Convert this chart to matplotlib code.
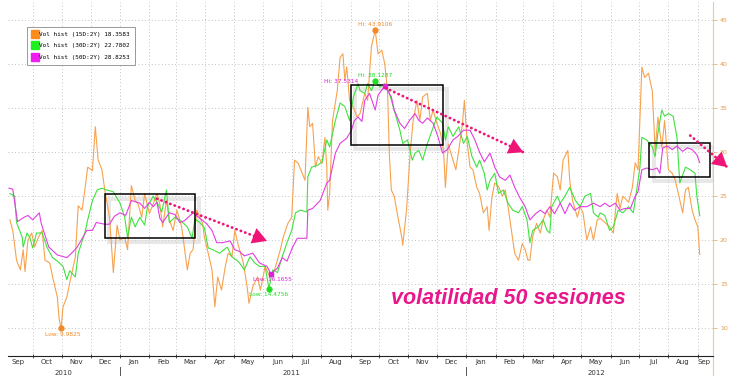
import pandas as pd
import matplotlib
matplotlib.use('Agg')
import matplotlib.pyplot as plt
import matplotlib.dates as mdates
import matplotlib.transforms as mtransforms
from matplotlib.patches import Rectangle
from matplotlib.lines import Line2D

# volatilidad historica, (fecha, valor)
vol15 = [
    ('2010-09-07', 22.3), ('2010-09-10', 21.1), ('2010-09-14', 17.7), ('2010-09-18', 16.6),
    ('2010-09-21', 18.9), ('2010-09-23', 16.4), ('2010-09-26', 20.0), ('2010-09-30', 20.8),
    ('2010-10-03', 19.2), ('2010-10-07', 20.3), ('2010-10-11', 21.1), ('2010-10-14', 17.7),
    ('2010-10-19', 17.4), ('2010-10-22', 15.8), ('2010-10-27', 13.5), ('2010-10-29', 10.9),
    ('2010-10-31', 9.9825), ('2010-11-02', 12.4), ('2010-11-06', 13.5), ('2010-11-09', 15.1),
    ('2010-11-15', 18.1), ('2010-11-18', 23.9), ('2010-11-22', 23.4), ('2010-11-25', 25.7),
    ('2010-11-28', 28.3), ('2010-12-03', 27.9), ('2010-12-06', 32.9), ('2010-12-09', 29.1),
    ('2010-12-13', 28.0), ('2010-12-16', 25.7), ('2010-12-21', 22.6), ('2010-12-25', 16.3),
    ('2010-12-29', 21.7), ('2011-01-01', 20.0), ('2011-01-06', 20.3), ('2011-01-09', 18.9),
    ('2011-01-13', 26.2), ('2011-01-17', 24.5), ('2011-01-20', 24.1), ('2011-01-24', 22.6),
    ('2011-01-27', 25.3), ('2011-02-01', 23.0), ('2011-02-05', 24.1), ('2011-02-09', 25.3),
    ('2011-02-12', 24.1), ('2011-02-15', 21.5), ('2011-02-19', 24.5), ('2011-02-22', 22.3),
    ('2011-02-26', 21.1), ('2011-03-02', 23.4), ('2011-03-07', 21.5), ('2011-03-13', 16.6),
    ('2011-03-16', 18.5), ('2011-03-19', 18.9), ('2011-03-23', 23.4), ('2011-03-29', 21.9),
    ('2011-03-31', 20.3), ('2011-04-04', 18.5), ('2011-04-08', 16.6), ('2011-04-11', 12.4),
    ('2011-04-14', 15.8), ('2011-04-18', 14.3), ('2011-04-22', 17.0), ('2011-04-25', 18.5),
    ('2011-04-29', 18.1), ('2011-05-02', 21.1), ('2011-05-05', 19.7), ('2011-05-11', 17.4),
    ('2011-05-15', 14.7), ('2011-05-17', 12.8), ('2011-05-21', 14.7), ('2011-05-26', 15.8),
    ('2011-05-29', 14.3), ('2011-06-03', 17.0), ('2011-06-08', 15.8), ('2011-06-13', 16.6),
    ('2011-06-19', 18.9), ('2011-06-22', 20.3), ('2011-06-27', 21.9), ('2011-07-01', 22.6),
    ('2011-07-04', 29.1), ('2011-07-08', 28.7), ('2011-07-12', 27.6), ('2011-07-15', 26.8),
    ('2011-07-18', 35.1), ('2011-07-20', 32.9), ('2011-07-23', 33.3), ('2011-07-26', 28.3),
    ('2011-07-29', 29.5), ('2011-08-02', 28.7), ('2011-08-05', 31.7), ('2011-08-07', 28.3),
    ('2011-08-08', 23.4), ('2011-08-10', 25.3), ('2011-08-13', 33.6), ('2011-08-18', 37.0),
    ('2011-08-21', 40.8), ('2011-08-24', 41.2), ('2011-08-26', 38.2), ('2011-08-28', 39.7),
    ('2011-08-31', 35.9), ('2011-09-04', 35.1), ('2011-09-08', 34.0), ('2011-09-11', 34.4),
    ('2011-09-16', 36.7), ('2011-09-19', 35.9), ('2011-09-23', 42.0), ('2011-09-27', 43.9106),
    ('2011-09-30', 41.2), ('2011-10-04', 41.6), ('2011-10-07', 40.1), ('2011-10-10', 37.0),
    ('2011-10-12', 29.5), ('2011-10-14', 25.7), ('2011-10-17', 25.0), ('2011-10-21', 22.6),
    ('2011-10-25', 20.3), ('2011-10-26', 19.4), ('2011-10-30', 23.4), ('2011-11-03', 30.2),
    ('2011-11-06', 33.6), ('2011-11-10', 35.9), ('2011-11-13', 33.6), ('2011-11-16', 36.3),
    ('2011-11-21', 36.7), ('2011-11-24', 33.6), ('2011-11-27', 34.8), ('2011-12-01', 33.3),
    ('2011-12-05', 32.1), ('2011-12-08', 30.2), ('2011-12-10', 26.0), ('2011-12-13', 30.9),
    ('2011-12-18', 29.1), ('2011-12-21', 28.0), ('2011-12-24', 30.2), ('2011-12-28', 33.3),
    ('2011-12-30', 35.9), ('2012-01-02', 31.0), ('2012-01-05', 28.3), ('2012-01-08', 28.0),
    ('2012-01-12', 26.0), ('2012-01-15', 25.3), ('2012-01-19', 23.1), ('2012-01-23', 23.8),
    ('2012-01-25', 21.1), ('2012-01-28', 24.9), ('2012-01-31', 26.5), ('2012-02-04', 26.1),
    ('2012-02-08', 25.0), ('2012-02-11', 25.7), ('2012-02-14', 23.8), ('2012-02-18', 20.8),
    ('2012-02-21', 18.5), ('2012-02-25', 17.7), ('2012-02-29', 19.6), ('2012-03-03', 18.9),
    ('2012-03-06', 17.7), ('2012-03-08', 17.7), ('2012-03-11', 20.4), ('2012-03-15', 21.9),
    ('2012-03-19', 20.8), ('2012-03-22', 22.3), ('2012-03-26', 23.4), ('2012-03-29', 22.6),
    ('2012-04-02', 27.6), ('2012-04-06', 27.2), ('2012-04-09', 25.7), ('2012-04-12', 29.1),
    ('2012-04-17', 30.2), ('2012-04-19', 26.8), ('2012-04-22', 24.5), ('2012-04-27', 22.6),
    ('2012-04-30', 23.8), ('2012-05-03', 23.1), ('2012-05-07', 20.0), ('2012-05-11', 21.5),
    ('2012-05-14', 20.0), ('2012-05-18', 22.3), ('2012-05-21', 22.5), ('2012-05-26', 22.0),
    ('2012-05-31', 21.5), ('2012-06-04', 20.8), ('2012-06-08', 25.3), ('2012-06-11', 23.6),
    ('2012-06-14', 25.0), ('2012-06-20', 24.3), ('2012-06-24', 26.0), ('2012-06-27', 28.8),
    ('2012-06-30', 28.0), ('2012-07-04', 39.7), ('2012-07-07', 38.5), ('2012-07-11', 39.0),
    ('2012-07-15', 37.0), ('2012-07-18', 30.2), ('2012-07-21', 34.0), ('2012-07-25', 30.6),
    ('2012-07-28', 33.6), ('2012-08-01', 28.0), ('2012-08-05', 27.6), ('2012-08-08', 26.9),
    ('2012-08-11', 25.5), ('2012-08-16', 23.1), ('2012-08-19', 25.7), ('2012-08-22', 26.0),
    ('2012-08-26', 23.4), ('2012-08-29', 22.3), ('2012-09-01', 21.5), ('2012-09-03', 18.3583),
]

vol30 = [
    ('2010-09-07', 25.3), ('2010-09-12', 25.0), ('2010-09-14', 22.0), ('2010-09-20', 20.3),
    ('2010-09-21', 19.2), ('2010-09-25', 20.8), ('2010-09-28', 20.3), ('2010-10-01', 19.1),
    ('2010-10-05', 20.8), ('2010-10-11', 20.8), ('2010-10-16', 19.2), ('2010-10-22', 18.0),
    ('2010-10-27', 17.6), ('2010-11-02', 17.0), ('2010-11-06', 15.5), ('2010-11-09', 16.5),
    ('2010-11-15', 15.8), ('2010-11-18', 18.5), ('2010-11-25', 20.8), ('2010-11-28', 22.3),
    ('2010-12-03', 24.5), ('2010-12-08', 25.7), ('2010-12-13', 25.9), ('2010-12-18', 25.7),
    ('2010-12-25', 25.5), ('2011-01-01', 24.2), ('2011-01-06', 22.6), ('2011-01-09', 20.3),
    ('2011-01-13', 22.6), ('2011-01-17', 21.5), ('2011-01-22', 22.6), ('2011-01-27', 21.7),
    ('2011-01-30', 23.8), ('2011-02-05', 25.0), ('2011-02-09', 24.3), ('2011-02-14', 23.2),
    ('2011-02-19', 25.7), ('2011-02-22', 22.0), ('2011-02-28', 22.6), ('2011-03-05', 22.3),
    ('2011-03-13', 21.5), ('2011-03-18', 20.2), ('2011-03-21', 22.4), ('2011-03-26', 22.0),
    ('2011-03-31', 21.4), ('2011-04-04', 19.1), ('2011-04-09', 18.9), ('2011-04-16', 18.5),
    ('2011-04-24', 19.2), ('2011-04-29', 18.1), ('2011-05-04', 17.7), ('2011-05-07', 17.4),
    ('2011-05-12', 16.6), ('2011-05-18', 18.1), ('2011-05-23', 17.4), ('2011-05-28', 17.0),
    ('2011-06-03', 17.0), ('2011-06-06', 15.1), ('2011-06-07', 14.4756), ('2011-06-11', 16.6),
    ('2011-06-16', 16.3), ('2011-06-21', 18.1), ('2011-06-26', 19.7), ('2011-07-01', 21.1),
    ('2011-07-05', 23.1), ('2011-07-10', 23.4), ('2011-07-17', 23.2), ('2011-07-18', 27.2),
    ('2011-07-22', 28.3), ('2011-07-28', 28.5), ('2011-08-02', 28.9), ('2011-08-07', 31.4),
    ('2011-08-10', 30.6), ('2011-08-16', 33.6), ('2011-08-21', 35.6), ('2011-08-26', 35.2),
    ('2011-08-31', 33.6), ('2011-09-04', 36.3), ('2011-09-09', 37.8), ('2011-09-11', 37.0),
    ('2011-09-16', 36.7), ('2011-09-19', 37.8), ('2011-09-23', 37.0), ('2011-09-27', 38.1287),
    ('2011-10-02', 37.4), ('2011-10-07', 37.8), ('2011-10-12', 36.7), ('2011-10-17', 34.8),
    ('2011-10-23', 32.5), ('2011-10-26', 31.0), ('2011-10-31', 31.4), ('2011-11-05', 29.1),
    ('2011-11-08', 29.9), ('2011-11-12', 30.2), ('2011-11-16', 29.1), ('2011-11-21', 31.0),
    ('2011-11-26', 32.5), ('2011-12-01', 34.0), ('2011-12-07', 33.3), ('2011-12-10', 31.4),
    ('2011-12-13', 32.9), ('2011-12-18', 31.8), ('2011-12-24', 32.9), ('2011-12-29', 31.0),
    ('2012-01-02', 31.8), ('2012-01-07', 29.5), ('2012-01-12', 28.3), ('2012-01-15', 29.1),
    ('2012-01-20', 27.6), ('2012-01-23', 25.7), ('2012-01-26', 26.8), ('2012-01-31', 27.6),
    ('2012-02-04', 25.3), ('2012-02-09', 25.7), ('2012-02-14', 24.2), ('2012-02-19', 23.4),
    ('2012-02-25', 23.1), ('2012-02-29', 23.8), ('2012-03-05', 22.3), ('2012-03-08', 19.7),
    ('2012-03-11', 21.1), ('2012-03-17', 21.5), ('2012-03-22', 22.3), ('2012-03-26', 21.1),
    ('2012-03-29', 20.8), ('2012-03-31', 23.8), ('2012-04-06', 25.0), ('2012-04-09', 24.2),
    ('2012-04-14', 25.0), ('2012-04-19', 26.0), ('2012-04-25', 24.5), ('2012-04-30', 23.8),
    ('2012-05-05', 25.0), ('2012-05-11', 25.3), ('2012-05-14', 23.1), ('2012-05-19', 22.6),
    ('2012-05-21', 23.1), ('2012-05-26', 22.8), ('2012-05-31', 21.1), ('2012-06-04', 21.5),
    ('2012-06-09', 23.4), ('2012-06-14', 23.1), ('2012-06-20', 23.8), ('2012-06-25', 23.1),
    ('2012-06-29', 26.0), ('2012-07-02', 28.3), ('2012-07-04', 31.7), ('2012-07-09', 31.4),
    ('2012-07-15', 30.6), ('2012-07-18', 29.5), ('2012-07-21', 32.2), ('2012-07-25', 34.8),
    ('2012-07-28', 34.1), ('2012-08-01', 34.4), ('2012-08-06', 34.1), ('2012-08-10', 31.7),
    ('2012-08-13', 26.5), ('2012-08-19', 28.3), ('2012-08-24', 28.0), ('2012-08-29', 27.6),
    ('2012-08-31', 25.0), ('2012-09-03', 22.7802),
]

vol50 = [
    ('2010-09-06', 25.9), ('2010-09-10', 25.8), ('2010-09-15', 22.1), ('2010-09-22', 22.6),
    ('2010-09-26', 22.8), ('2010-10-01', 22.3), ('2010-10-08', 23.1), ('2010-10-10', 21.9),
    ('2010-10-18', 19.2), ('2010-10-27', 18.3), ('2010-11-06', 18.0), ('2010-11-11', 18.5),
    ('2010-11-17', 19.2), ('2010-11-27', 21.1), ('2010-12-03', 21.1), ('2010-12-07', 22.0),
    ('2010-12-16', 21.8), ('2010-12-21', 21.8), ('2010-12-26', 22.7), ('2011-01-01', 23.1),
    ('2011-01-07', 22.8), ('2011-01-13', 24.5), ('2011-01-22', 24.2), ('2011-01-27', 23.6),
    ('2011-02-01', 24.3), ('2011-02-05', 23.8), ('2011-02-09', 24.3), ('2011-02-12', 22.5),
    ('2011-02-15', 22.0), ('2011-02-22', 23.1), ('2011-02-28', 22.9), ('2011-03-05', 22.0),
    ('2011-03-10', 22.2), ('2011-03-19', 23.1), ('2011-03-26', 22.5), ('2011-04-02', 21.9),
    ('2011-04-08', 21.1), ('2011-04-13', 19.7), ('2011-04-19', 19.7), ('2011-04-27', 19.9),
    ('2011-05-02', 18.9), ('2011-05-07', 18.7), ('2011-05-12', 18.2), ('2011-05-21', 18.5),
    ('2011-05-28', 17.4), ('2011-06-05', 17.0), ('2011-06-09', 16.1655), ('2011-06-16', 16.8),
    ('2011-06-21', 18.0), ('2011-06-26', 17.6), ('2011-07-02', 19.2), ('2011-07-07', 20.2),
    ('2011-07-17', 20.2), ('2011-07-18', 23.4), ('2011-07-23', 23.6), ('2011-07-31', 24.5),
    ('2011-08-07', 26.5), ('2011-08-10', 26.8), ('2011-08-16', 29.9), ('2011-08-21', 31.0),
    ('2011-08-28', 31.6), ('2011-09-02', 32.5), ('2011-09-05', 33.6), ('2011-09-09', 34.0),
    ('2011-09-13', 33.5), ('2011-09-16', 35.9), ('2011-09-21', 36.7), ('2011-09-27', 34.8),
    ('2011-09-30', 36.5), ('2011-10-07', 37.5314), ('2011-10-14', 36.3), ('2011-10-17', 34.8),
    ('2011-10-23', 33.3), ('2011-10-28', 32.7), ('2011-11-02', 33.6), ('2011-11-08', 34.4),
    ('2011-11-12', 33.6), ('2011-11-16', 33.3), ('2011-11-21', 33.9), ('2011-11-27', 33.3),
    ('2011-12-02', 31.8), ('2011-12-07', 29.9), ('2011-12-12', 30.3), ('2011-12-18', 31.4),
    ('2011-12-23', 31.8), ('2011-12-29', 32.5), ('2012-01-05', 32.5), ('2012-01-10', 31.4),
    ('2012-01-15', 30.0), ('2012-01-20', 28.9), ('2012-01-26', 29.9), ('2012-01-31', 28.3),
    ('2012-02-05', 27.2), ('2012-02-11', 26.8), ('2012-02-16', 27.4), ('2012-02-21', 26.0),
    ('2012-02-26', 24.9), ('2012-03-03', 23.8), ('2012-03-08', 22.3), ('2012-03-14', 23.0),
    ('2012-03-19', 23.4), ('2012-03-24', 23.0), ('2012-03-29', 23.8), ('2012-04-03', 23.0),
    ('2012-04-09', 24.2), ('2012-04-14', 23.0), ('2012-04-19', 24.2), ('2012-04-24', 23.4),
    ('2012-04-30', 23.8), ('2012-05-07', 23.8), ('2012-05-14', 24.2), ('2012-05-21', 23.8),
    ('2012-05-26', 24.2), ('2012-05-31', 23.8), ('2012-06-06', 24.2), ('2012-06-11', 23.4),
    ('2012-06-16', 23.6), ('2012-06-22', 23.6), ('2012-06-27', 25.0), ('2012-06-30', 25.5),
    ('2012-07-04', 28.0), ('2012-07-09', 28.2), ('2012-07-15', 28.0), ('2012-07-20', 28.2),
    ('2012-07-23', 27.6), ('2012-07-26', 30.5), ('2012-07-31', 30.7), ('2012-08-05', 30.3),
    ('2012-08-10', 30.7), ('2012-08-16', 30.1), ('2012-08-21', 30.5), ('2012-08-26', 30.3),
    ('2012-08-31', 29.7), ('2012-09-03', 28.8253),
]

labels = ['Vol hist (15D:2Y) 18.3583', 'Vol hist (30D:2Y) 22.7802', 'Vol hist (50D:2Y) 28.8253']
line_colors = ['#f7a24e', '#3fe23f', '#e23ee2']
legend_colors = ['#ff8c1a', '#1fee1f', '#ee1fee']

yticks = [10, 15, 20, 25, 30, 35, 40, 45]
years = ['2010', '2011', '2012']
year_centers = ['2010-11-02', '2011-07-01', '2012-05-17']
year_breaks = ['2011-01-01', '2012-01-01']

# maximos / minimos: fecha, valor, texto, color, marcador, desplazamiento (pt)
extremes = [
    ('2011-09-27', 43.9106, 'Hi: 43.9106', '#f08a2a', 'o', (0, 4), 'center'),
    ('2011-09-27', 38.1287, 'Hi: 38.1287', '#22dd22', 'o', (0, 3.5), 'center'),
    ('2011-10-07', 37.5314, 'Hi: 37.5314', '#dd22dd', 's', (-19, 3.5), 'right'),
    ('2010-10-31', 9.9825, 'Low: 9.9825', '#f08a2a', 'o', (1.5, -4.5), 'center'),
    ('2011-06-09', 16.1655, 'Low: 16.1655', '#dd22dd', 's', (1, -4), 'center'),
    ('2011-06-07', 14.4756, 'Low: 14.4756', '#22dd22', 'o', (0, -4.5), 'center'),
]

# recuadros y flechas
boxes = [
    ('2010-12-16', '2011-03-21', 20.2, 25.2),
    ('2011-09-01', '2011-12-07', 30.8, 37.7),
    ('2012-07-12', '2012-09-14', 27.2, 31.1),
]
arrows = [
    ('2011-02-09', 24.7, '2011-06-05', 19.9),
    ('2011-10-08', 37.3, '2012-03-01', 30.0),
    ('2012-08-24', 31.9, '2012-10-02', 28.3),
]
note = 'volatilidad 50 sesiones'
note_pos = ('2012-02-14', 13.4)
pink = '#ee1478'

fig = plt.figure(figsize=(7.35, 3.76), dpi=100)
ax = fig.add_axes([8 / 735, 20 / 376, 705 / 735, 354 / 376])

handles = []
for pts, c, lc, lab in zip([vol15, vol30, vol50], line_colors, legend_colors, labels):
    d = pd.to_datetime([p[0] for p in pts])
    v = [p[1] for p in pts]
    ax.plot(d, v, color=c, lw=0.8, zorder=3)
    handles.append(Line2D([], [], marker='s', color=lc, ls='none', markersize=5.5, label=lab))

for d, v, txt, c, m, off, ha in extremes:
    dt = pd.Timestamp(d)
    ax.plot([dt], [v], marker=m, color=c, markersize=3.5, zorder=6)
    ax.annotate(txt, xy=(dt, v), xytext=off, textcoords='offset points',
                ha=ha, va='center', fontsize=4.2, color=c, zorder=6)

shadow_tr = mtransforms.offset_copy(ax.transData, fig=fig, x=3, y=-3, units='points')
for x0, x1, y0, y1 in boxes:
    a, b = mdates.date2num(pd.Timestamp(x0)), mdates.date2num(pd.Timestamp(x1))
    ax.add_patch(Rectangle((a, y0), b - a, y1 - y0, fill=False, ec='#d4d4d4', lw=2.8,
                           alpha=0.55, transform=shadow_tr, zorder=2.5))
    ax.add_patch(Rectangle((a, y0), b - a, y1 - y0, fill=False, ec='black', lw=1.1, zorder=5))

for d0, v0, d1, v1 in arrows:
    t0, t1 = pd.Timestamp(d0), pd.Timestamp(d1)
    ax.plot([t0, t1], [v0, v1], color=pink, lw=2.0, linestyle=(0, (0.1, 1.6)),
            dash_capstyle='round', clip_on=False, zorder=7)
    # punta solida
    n0, n1 = mdates.date2num(t0), mdates.date2num(t1)
    ax.annotate('', xy=(n1, v1), xytext=(n1 - (n1 - n0) * 0.12, v1 - (v1 - v0) * 0.12),
                arrowprops=dict(arrowstyle='-|>,head_length=0.8,head_width=0.45', fc=pink,
                                ec=pink, lw=0.01, mutation_scale=13, shrinkA=0, shrinkB=0),
                annotation_clip=False, zorder=8)

ax.text(pd.Timestamp(note_pos[0]), note_pos[1], note, ha='center', va='center',
        fontsize=15.5, fontweight='bold', fontstyle='italic', family='Liberation Sans',
        color='#e8178c', zorder=7)

leg = ax.legend(handles=handles, loc='upper left', bbox_to_anchor=(0.027, 0.93),
                prop={'family': 'DejaVu Sans Mono', 'size': 4.3}, frameon=True, fancybox=False,
                edgecolor='#999999', framealpha=1, handlelength=0.8, handletextpad=0.3,
                borderpad=0.9, labelspacing=1.0, borderaxespad=0)
leg.get_frame().set_linewidth(0.7)

# ejes
ax.set_xlim(pd.Timestamp('2010-09-05'), pd.Timestamp('2012-09-17'))
ax.set_ylim(6.8, 47.1)
ax.xaxis.set_major_locator(mdates.MonthLocator())
ax.xaxis.set_major_formatter(plt.NullFormatter())
mids = [m + pd.Timedelta(days=15) for m in pd.date_range('2010-09-01', '2012-08-01', freq='MS')]
mids.append(pd.Timestamp('2012-09-07'))
ax.set_xticks(mids, minor=True)
ax.set_xticklabels([m.strftime('%b') for m in mids], minor=True)
ax.tick_params(axis='x', which='minor', length=0, labelsize=5, labelcolor='#333333', pad=2.5)
ax.tick_params(axis='x', which='major', length=3, direction='inout', color='#333333', width=0.6)

ax.yaxis.tick_right()
ax.set_yticks(yticks)
ax.tick_params(axis='y', which='major', length=3, width=0.6, color='#f0b070',
               labelsize=4.5, labelcolor='#e09a50', pad=2)

ax.grid(True, which='major', color='#b0b0b0', lw=0.6, linestyle=(0, (1, 3)))
ax.set_axisbelow(True)
for s in ['left', 'top']:
    ax.spines[s].set_visible(False)
ax.spines['bottom'].set_color('#222222')
ax.spines['bottom'].set_linewidth(0.8)
ax.spines['right'].set_color('#f3c894')
ax.spines['right'].set_linewidth(0.8)

trans = mtransforms.blended_transform_factory(ax.transData, ax.transAxes)
for yl, yc in zip(years, year_centers):
    ax.text(pd.Timestamp(yc), -0.04, yl, transform=trans, ha='center', va='top',
            fontsize=5, color='#333333')
for yb in year_breaks:
    ax.plot([pd.Timestamp(yb)] * 2, [-0.03, -0.06], transform=trans, color='#555555',
            lw=0.7, clip_on=False)
ax.plot([1, 1], [0, -0.06], transform=ax.transAxes, color='#f3c894', lw=0.8, clip_on=False)

fig.savefig('out.png', dpi=100)
